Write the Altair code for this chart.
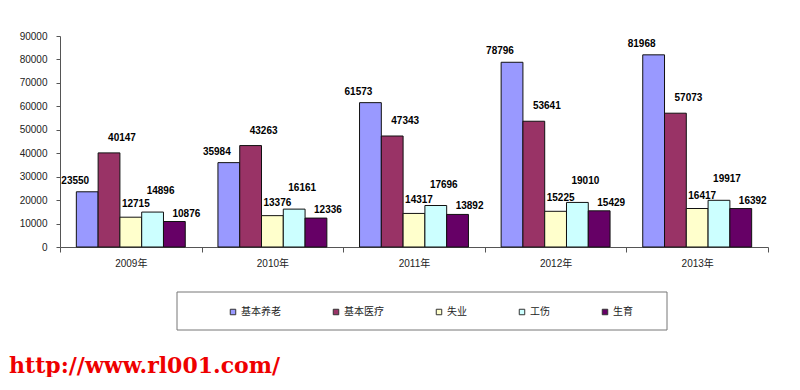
import altair as alt
import pandas as pd

years = ["2009年", "2010年", "2011年", "2012年", "2013年"]
series = ["基本养老", "基本医疗", "失业", "工伤", "生育"]
pension = [23550, 35984, 61573, 78796, 81968]
medical = [40147, 43263, 47343, 53641, 57073]
unemployment = [12715, 13376, 14317, 15225, 16417]
injury = [14896, 16161, 17696, 19010, 19917]
maternity = [10876, 12336, 13892, 15429, 16392]
y_ticks = [0, 10000, 20000, 30000, 40000, 50000, 60000, 70000, 80000, 90000]
watermark = "http://www.rl001.com/"

colors = ["#9999FF", "#993366", "#FFFFCC", "#CCFFFF", "#660066"]
# per-series label offsets (dx, dy) imitating the Excel label placement
label_style = {
    "基本养老": (-12, -11),
    "基本医疗": (13, -15),
    "失业": (5, -13),
    "工伤": (8, -21),
    "生育": (12, -8),
}

rows = []
for s, vals in zip(series, [pension, medical, unemployment, injury, maternity]):
    for yr, v in zip(years, vals):
        rows.append({"year": yr, "series": s, "value": v})
df = pd.DataFrame(rows)

FONT = "Liberation Sans, Noto Sans CJK SC"

x_enc = alt.X(
    "year:N",
    sort=years,
    scale=alt.Scale(paddingInner=0, paddingOuter=0),
    axis=alt.Axis(
        title=None, labelAngle=0, tickBand="extent", tickSize=5, labelPadding=6,
        domainColor="#555", tickColor="#555", labelColor="#222",
        labelFont=FONT, labelFontSize=10,
    ),
)
xo_enc = alt.XOffset(
    "series:N", sort=series,
    scale=alt.Scale(domain=series, paddingInner=0, paddingOuter=0.75),
)
y_enc = alt.Y(
    "value:Q",
    scale=alt.Scale(domain=[0, 90000], nice=False),
    axis=alt.Axis(
        title=None, values=y_ticks, format="d", grid=False, tickSize=4,
        labelPadding=9, domainColor="#555", tickColor="#555", labelColor="#222",
        labelFont=FONT, labelFontSize=10,
    ),
)

base = alt.Chart(df).encode(x=x_enc, xOffset=xo_enc, y=y_enc)

bars = base.mark_bar(stroke="#111", strokeWidth=1).encode(
    color=alt.Color(
        "series:N",
        sort=series,
        scale=alt.Scale(domain=series, range=colors),
        legend=alt.Legend(
            title=None, orient="none", legendX=168, legendY=271,
            direction="horizontal", columns=5, columnPadding=50,
            symbolType="square", symbolSize=30, symbolStrokeColor="#333",
            symbolStrokeWidth=1, labelFont=FONT, labelFontSize=10,
            labelColor="#222", labelOffset=3, padding=0,
        ),
    )
)

labels = []
for s in series:
    dx, dy = label_style[s]
    labels.append(
        base.transform_filter(alt.datum.series == s)
        .mark_text(font="Liberation Sans", fontSize=10, fontWeight="bold",
                   color="#000", dx=dx, dy=dy, baseline="middle", align="center")
        .encode(text=alt.Text("value:Q", format="d"))
    )

one = pd.DataFrame({"k": [0]})
legend_box = alt.Chart(one).mark_rect(stroke="#777", strokeWidth=1, fillOpacity=0).encode(
    x=alt.value(117), x2=alt.value(607), y=alt.value(256), y2=alt.value(294)
)
mark_wm = alt.Chart(one).mark_text(
    text=watermark, font="DejaVu Serif", fontWeight="bold", fontSize=22,
    color="#ee0000", align="left", baseline="middle",
).encode(x=alt.value(-51), y=alt.value(330))

chart = alt.layer(legend_box, bars, *labels, mark_wm).properties(
    width=708, height=211,
    padding={"left": 52, "top": 28, "right": 20, "bottom": 130},
    autosize="none",
    background="white",
).configure_view(stroke=None)

chart.save("out.html", embed_options={"renderer": "svg", "actions": False})
